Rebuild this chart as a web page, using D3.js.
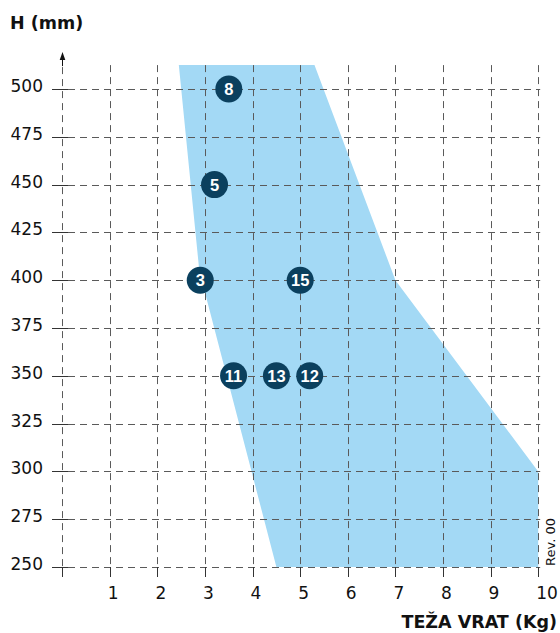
<!DOCTYPE html>
<head>
  <meta charset="utf-8">
  <script src="https://cdn.jsdelivr.net/npm/d3@7"></script>
  <style>
    body { margin: 0; background: #fff; }
    .tick-label { font-family: "DejaVu Sans"; font-size: 17px; fill: #111; }
    .title { font-family: "DejaVu Sans"; font-weight: bold; font-size: 17.5px; fill: #111; }
    .num { font-family: "Liberation Sans"; font-weight: bold; font-size: 16.5px; fill: #fff; }
  </style>
</head>
<body>
  <svg id="chart"></svg>
  <script>
    var width = 560;
    var height = 633;

    // axis ticks
    var xTicks = [0, 1, 2, 3, 4, 5, 6, 7, 8, 9, 10];
    var xTickLabels = ["1", "2", "3", "4", "5", "6", "7", "8", "9", "10"];
    var yTicks = [250, 275, 300, 325, 350, 375, 400, 425, 450, 475, 500];

    // shaded zone outline, [weight kg, height mm]
    var zoneWeight = [2.45, 5.3, 7.0, 10.0, 10.0, 4.5, 2.88];
    var zoneHeight = [512.5, 512.5, 400, 300, 250, 250, 405];

    // numbered models
    var modelIds = ["8", "5", "3", "15", "11", "13", "12"];
    var modelWeight = [3.5, 3.2, 2.9, 5.0, 3.6, 4.5, 5.2];
    var modelHeight = [500, 450, 400, 400, 350, 350, 350];

    var svg = d3.select("#chart")
      .attr("width", width)
      .attr("height", height);

    var x = d3.scaleLinear().domain([0, 10]).range([62.2, 538.2]);
    var y = d3.scaleLinear().domain([250, 500]).range([567, 89]);

    var gridColor = "#5a5a5a";
    var dash = "7,5";
    var topY = y(512.5);

    //blue zone
    var zone = zoneWeight.map(function(w, i) { return [x(w), y(zoneHeight[i])]; });
    svg.append("path")
      .attr("d", d3.line()(zone) + "Z")
      .attr("fill", "#a3d9f5");

    //horizontal grid
    svg.selectAll(".hgrid")
      .data(yTicks).enter()
      .append("line")
      .attr("class", "hgrid")
      .attr("x1", 68).attr("x2", x(10) + 2)
      .attr("y1", d => Math.round(y(d)) + 0.5)
      .attr("y2", d => Math.round(y(d)) + 0.5)
      .attr("stroke", gridColor)
      .attr("stroke-dasharray", dash);

    //vertical grid
    svg.selectAll(".vgrid")
      .data(xTicks).enter()
      .append("line")
      .attr("class", "vgrid")
      .attr("x1", d => Math.round(x(d)) + 0.5)
      .attr("x2", d => Math.round(x(d)) + 0.5)
      .attr("y1", d => d == 0 ? topY + 2 : topY)
      .attr("y2", y(250))
      .attr("stroke", gridColor)
      .attr("stroke-dasharray", dash);

    //solid tick marks
    svg.selectAll(".ytick")
      .data(yTicks).enter()
      .append("line")
      .attr("x1", 52).attr("x2", 68)
      .attr("y1", d => Math.round(y(d)) + 0.5)
      .attr("y2", d => Math.round(y(d)) + 0.5)
      .attr("stroke", "#333");

    svg.selectAll(".xtick")
      .data(xTicks).enter()
      .append("line")
      .attr("x1", d => Math.round(x(d)) + 0.5)
      .attr("x2", d => Math.round(x(d)) + 0.5)
      .attr("y1", y(250)).attr("y2", y(250) + 10)
      .attr("stroke", "#333");

    //arrow on the y axis
    var ax = Math.round(x(0)) + 0.5;
    svg.append("line")
      .attr("x1", ax).attr("x2", ax)
      .attr("y1", 58).attr("y2", topY + 1)
      .attr("stroke", "#111");
    svg.append("path")
      .attr("d", "M" + ax + ",52 L" + (ax - 2.8) + ",60 L" + (ax + 2.8) + ",60 Z")
      .attr("fill", "#111");

    //tick labels
    svg.selectAll(".ylab")
      .data(yTicks).enter()
      .append("text")
      .attr("class", "tick-label")
      .attr("x", 43)
      .attr("y", d => y(d) + 3)
      .attr("text-anchor", "end")
      .text(d => d);

    svg.selectAll(".xlab")
      .data(xTickLabels).enter()
      .append("text")
      .attr("class", "tick-label")
      .attr("x", d => x(+d) - 2)
      .attr("y", 599)
      .attr("text-anchor", "start")
      .text(d => d);

    //titles
    svg.append("text")
      .attr("class", "title")
      .attr("x", 10).attr("y", 29)
      .text("H (mm)");

    svg.append("text")
      .attr("class", "title")
      .attr("x", 557).attr("y", 628)
      .attr("text-anchor", "end")
      .text("TEŽA VRAT (Kg)");

    svg.append("text")
      .attr("transform", "translate(555,566) rotate(-90)")
      .style("font-family", "DejaVu Sans")
      .style("font-size", "13px")
      .attr("fill", "#111")
      .text("Rev. 00");

    //numbered circles
    var models = svg.selectAll(".model")
      .data(modelIds).enter()
      .append("g")
      .attr("transform", (d, i) => "translate(" + x(modelWeight[i]) + "," + y(modelHeight[i]) + ")");

    models.append("circle")
      .attr("r", 13.5)
      .attr("fill", "#0b405e");

    models.append("text")
      .attr("class", "num")
      .attr("text-anchor", "middle")
      .attr("y", 6)
      .text(d => d);
  </script>
</body>
